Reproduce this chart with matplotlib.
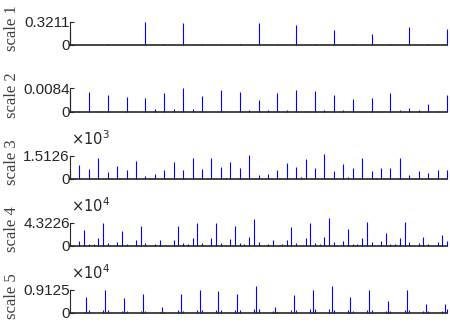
import numpy as np
import matplotlib
matplotlib.use("Agg")
import matplotlib.pyplot as plt

plt.rcParams['mathtext.fontset'] = 'custom'
plt.rcParams['mathtext.rm'] = 'Liberation Sans'
plt.rcParams['mathtext.default'] = 'regular'

labels = ['scale 1', 'scale 2', 'scale 3', 'scale 4', 'scale 5']
ymax = [0.3211, 0.0084, 1.5126e3, 4.3226e4, 0.9125e4]
tick_text = ['0.3211', '0.0084', '1.5126', '4.3226', '0.9125']
exponents = [None, None, 3, 4, 4]

# scale 1 (relative to axis max)
s1_x = np.arange(0, 81, 4)
s1_rel = [0.67, 0.0, 0.04, 0.0, 1.0, 0.01, 0.92, 0.01, 0.03, 0.02, 0.94,
          0.02, 0.86, 0.02, 0.64, 0.02, 0.47, 0.02, 0.76, 0.02, 0.67]

# scale 2
s2_x = np.arange(0, 81, 2)
s2_rel = [0.9, 0.04, 0.84, 0.04, 0.73, 0.0, 0.64, 0.0, 0.59, 0.12, 0.81,
          0.12, 1.0, 0.12, 0.68, 0.0, 0.93, 0.0, 0.85, 0.08, 0.49, 0.08,
          0.8, 0.08, 0.95, 0.02, 0.87, 0.08, 0.72, 0.08, 0.56, 0.02, 0.6,
          0.02, 0.8, 0.06, 0.16, 0.06, 0.33, 0.04, 0.72]

# scale 3
s3_x = np.arange(0, 81, 2)
s3_rel = [0.38, 0.58, 0.41, 0.89, 0.28, 0.55, 0.35, 0.74, 0.1, 0.2, 0.38,
          0.71, 0.38, 0.89, 0.41, 0.89, 0.49, 0.72, 0.47, 1.03, 0.15, 0.2,
          0.38, 0.69, 0.5, 0.84, 0.47, 1.05, 0.34, 0.61, 0.46, 0.89, 0.34,
          0.47, 0.47, 0.89, 0.15, 0.34, 0.26, 0.38, 0.38]
s3_small_x = [1, 17, 33, 49, 59, 65]
s3_small_rel = [0.04, 0.03, 0.04, 0.06, 0.05, 0.04]

# scale 4
s4_x = np.arange(0, 81)
s4_rel = [0.0, 0.0, 0.2, 0.66, 0.05, 0.05, 0.31, 1.0, 0.11, 0.0, 0.15,
          0.63, 0.05, 0.0, 0.23, 0.83, 0.11, 0.0, 0.05, 0.26, 0.0, 0.0,
          0.26, 0.83, 0.11, 0.05, 0.31, 1.0, 0.11, 0.0, 0.31, 0.97, 0.11,
          0.0, 0.29, 0.84, 0.1, 0.07, 0.39, 1.16, 0.15, 0.0, 0.07, 0.26,
          0.0, 0.07, 0.26, 0.8, 0.12, 0.0, 0.33, 0.98, 0.12, 0.07, 0.39,
          1.2, 0.17, 0.0, 0.21, 0.71, 0.07, 0.07, 0.33, 1.02, 0.15, 0.0,
          0.2, 0.54, 0.07, 0.07, 0.33, 1.04, 0.17, 0.0, 0.12, 0.39, 0.07,
          0.0, 0.15, 0.44, 0.21]

# scale 5
s5_x = np.arange(3.5, 80, 4)
s5_rel = [0.68, 0.97, 0.61, 0.79, 0.26, 0.79, 0.97, 0.93, 0.82, 1.14,
          0.24, 0.76, 0.97, 1.14, 0.68, 0.97, 0.51, 1.0, 0.38, 0.39]
s5_left_rel = [0.03, 0.1, 0.08, 0.05, 0.03, 0.1, 0.1, 0.1, 0.12, 0.14,
               0.05, 0.1, 0.14, 0.14, 0.1, 0.12, 0.06, 0.12, 0.06, 0.06]
s5_right_rel = [0.1, 0.1, 0.05, 0.05, 0.03, 0.05, 0.1, 0.1, 0.12, 0.17,
                0.03, 0.1, 0.14, 0.12, 0.08, 0.1, 0.06, 0.12, 0.06, 0.15]

series = [
    [(s1_x, s1_rel)],
    [(s2_x, s2_rel)],
    [(s3_x, s3_rel), (s3_small_x, s3_small_rel)],
    [(s4_x, s4_rel)],
    [(s5_x, s5_rel), (s5_x - 0.5, s5_left_rel), (s5_x + 0.5, s5_right_rel)],
]

W, H = 450, 323
fig = plt.figure(figsize=(W / 100, H / 100), dpi=100)
axcol = '#262626'
left_px, right_px = 70, 447
bottoms_px = [44.5, 111.5, 178.5, 245.5, 312.5]
height_px = 23

for i in range(5):
    b = bottoms_px[i]
    ax = fig.add_axes([left_px / W, 1 - b / H, (right_px - left_px) / W, height_px / H])
    for xs, rel in series[i]:
        vals = np.asarray(rel) * ymax[i]
        ax.vlines(xs, 0, vals, colors='#0000ff', linewidth=0.8, clip_on=False)
    ax.set_xlim(0, 80)
    ax.set_ylim(0, ymax[i])
    ax.set_yticks([0, ymax[i]])
    ax.set_yticklabels(['0', tick_text[i]], fontsize=11, family='Liberation Sans', color=axcol)
    ax.set_xticks([])
    ax.tick_params(axis='y', direction='in', length=3, width=0.8, color=axcol, pad=0)
    for s in ['top', 'right']:
        ax.spines[s].set_visible(False)
    ax.spines['left'].set_color(axcol)
    ax.spines['left'].set_linewidth(0.8)
    ax.spines['bottom'].set_color(axcol)
    ax.spines['bottom'].set_linewidth(1.2)
    ax.spines['bottom'].set_zorder(3)
    ax.set_ylabel(labels[i], family='Liberation Serif', fontsize=12, color='#404040')
    ax.yaxis.set_label_coords(-0.133, 0.7)
    if exponents[i] is not None:
        ax.annotate(r'$\times 10^{%d}$' % exponents[i], xy=(0, 1), xycoords='axes fraction',
                    xytext=(1, 12), textcoords='offset points', fontsize=10.5,
                    color=axcol, ha='left', va='center')

fig.savefig('out.png', dpi=100)
